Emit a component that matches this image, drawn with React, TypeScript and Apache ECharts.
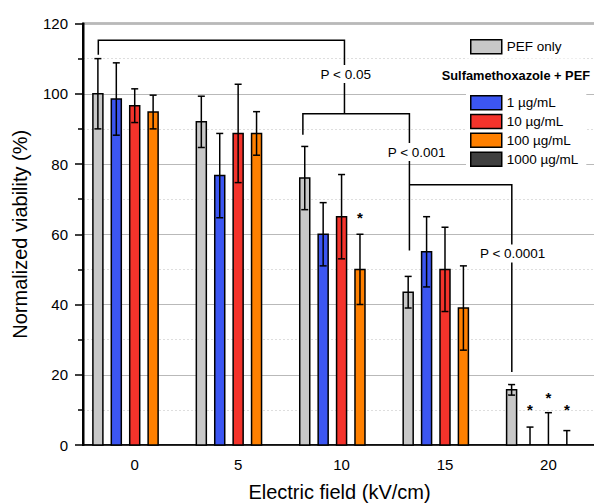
import React, { useEffect, useRef } from "react";
import * as echarts from "echarts";

// Electric field (kV/cm)
const fields = [0, 5, 10, 15, 20];
const tickValues = [0, 5, 10, 15, 20];

const seriesNames = ["PEF only", "1 µg/mL", "10 µg/mL", "100 µg/mL", "1000 µg/mL"];
const seriesColors = ["#c8c8c8", "#3c56f2", "#f4332b", "#ff8000", "#404040"];

// Normalized viability (%) and error (±)
const pefOnly = [100, 92, 76, 43.5, 15.7];
const pefOnlyErr = [10, 7.3, 9, 4.5, 1.5];
const c1 = [98.5, 76.7, 60, 55, 0];
const c1Err = [10.3, 12, 9, 10, 5.1];
const c10 = [96.6, 88.7, 65, 50, 0];
const c10Err = [4.8, 14, 12, 12, 9.2];
const c100 = [94.8, 88.7, 50, 39, 0];
const c100Err = [4.8, 6.2, 10, 12, 4.1];
const c1000 = [0, 0, 0, 0, 0];
const c1000Err = [0, 0, 0, 0, 0];

const allValues = [pefOnly, c1, c10, c100, c1000];
const allErrs = [pefOnlyErr, c1Err, c10Err, c100Err, c1000Err];

// significance stars: field, series index, y position
const starFields = [10, 20, 20, 20];
const starSeries = [3, 1, 2, 3];
const starY = [65.7, 10.9, 14.4, 10.9];

// significance brackets (data coordinates)
const bracketLines = [
  [[-1.76, 111.1], [-1.76, 115.2], [10.14, 115.2], [10.14, 94.3]],
  [[8.13, 88.3], [8.13, 94.3], [13.28, 94.3], [13.28, 55.4]],
  [[13.28, 74.1], [18.23, 74.1], [18.23, 20.8]],
];
const bracketLabels = ["P < 0.05", "P < 0.001", "P < 0.0001"];
const bracketLabelPos = [[10.2, 105.6], [13.63, 83.4], [18.27, 54.5]];

const X_MIN = -2.5;
const X_MAX = 22.3;
const Y_MIN = 0;
const Y_MAX = 120;

const FONT = "'Liberation Sans', Arial, sans-serif";
const GROUP_STEP = 0.89; // offset between bars within a group (kV/cm units)
const BAR_W = 10;
const CAP_W = 7;

export default function App() {
  const ref = useRef<HTMLDivElement>(null);
  useEffect(() => {
    if (!ref.current) return;
    const chart = echarts.init(ref.current, null, { renderer: "svg" });

    const barSeries = seriesNames.map((name, si) => ({
      name,
      type: "custom",
      itemStyle: { color: seriesColors[si], borderColor: "#000", borderWidth: 1.5 },
      encode: { x: 0, y: 1 },
      data: fields.map((f, i) => [f, allValues[si][i], allErrs[si][i]]),
      renderItem: (params: any, api: any) => {
        const x = api.value(0) + (si - 2) * GROUP_STEP;
        const v = api.value(1);
        const e = api.value(2);
        if (v === 0 && e === 0) return null;
        const base = api.coord([x, 0]);
        const top = api.coord([x, v]);
        const hi = api.coord([x, v + e]);
        const lo = api.coord([x, Math.max(0, v - e)]);
        const cx = top[0];
        const ln = { stroke: "#000", lineWidth: 1.5 };
        const children: any[] = [];
        if (v > 0) {
          children.push({
            type: "rect",
            shape: { x: cx - BAR_W / 2, y: top[1], width: BAR_W, height: base[1] - top[1] },
            style: { fill: seriesColors[si], stroke: "#000", lineWidth: 1.5 },
          });
        }
        if (e > 0) {
          children.push({ type: "line", shape: { x1: cx, y1: hi[1], x2: cx, y2: top[1] }, style: ln });
          children.push({ type: "line", shape: { x1: cx - CAP_W / 2, y1: hi[1], x2: cx + CAP_W / 2, y2: hi[1] }, style: ln });
          if (v > 0) {
            children.push({ type: "line", shape: { x1: cx, y1: top[1], x2: cx, y2: lo[1] }, style: ln });
            if (v - e > 0) {
              children.push({ type: "line", shape: { x1: cx - CAP_W / 2, y1: lo[1], x2: cx + CAP_W / 2, y2: lo[1] }, style: ln });
            }
          }
        }
        return { type: "group", children };
      },
    }));

    const starSeriesDef = {
      name: "stars",
      type: "custom",
      silent: true,
      data: starFields.map((f, i) => [f, starY[i], starSeries[i]]),
      encode: { x: 0, y: 1 },
      renderItem: (params: any, api: any) => {
        const p = api.coord([api.value(0) + (api.value(2) - 2) * GROUP_STEP, api.value(1)]);
        return {
          type: "text",
          x: p[0],
          y: p[1] + 3,
          style: { text: "*", fill: "#000", font: `bold 15px ${FONT}`, align: "center", verticalAlign: "middle" },
        };
      },
    };

    const bracketSeries = {
      name: "brackets",
      type: "custom",
      silent: true,
      data: bracketLabelPos,
      encode: { x: 0, y: 1 },
      renderItem: (params: any, api: any) => {
        const i = params.dataIndex;
        const pts = bracketLines[i].map((p) => api.coord(p));
        const lp = api.coord([api.value(0), api.value(1)]);
        return {
          type: "group",
          children: [
            { type: "polyline", shape: { points: pts }, style: { stroke: "#000", lineWidth: 1.5, fill: null } },
            {
              type: "text",
              x: lp[0],
              y: lp[1],
              z2: 10,
              style: {
                text: bracketLabels[i],
                fill: "#000",
                font: `13.5px ${FONT}`,
                align: "center",
                verticalAlign: "middle",
                backgroundColor: "#fff",
                padding: [2, 2],
              },
            },
          ],
        };
      },
    };

    // left frame line of the plot, drawn through the axes' scales
    const frameSeries = {
      name: "frame",
      type: "custom",
      silent: true,
      z: 1000,
      data: [[X_MIN, Y_MIN]],
      encode: { x: 0, y: 1 },
      renderItem: (params: any, api: any) => {
        const a = api.coord([X_MIN, Y_MIN]);
        const b = api.coord([X_MIN, Y_MAX]);
        return {
          type: "line",
          z2: 100,
          shape: { x1: a[0] + 0.5, y1: a[1] + 0.75, x2: b[0] + 0.5, y2: b[1] - 0.75 },
          style: { stroke: "#000", lineWidth: 2 },
        };
      },
    };

    const legendItem = (si: number) => ({
      name: seriesNames[si],
      itemStyle: { color: seriesColors[si], borderColor: "#000", borderWidth: 1.5 },
    });

    chart.setOption({
      animation: false,
      backgroundColor: "#fff",
      textStyle: { fontFamily: FONT },
      grid: {
        left: 83,
        right: -2,
        top: 23.5,
        bottom: 59,
        outerBoundsMode: "none",
        show: true,
        borderColor: "#000",
        borderWidth: 1.5,
        backgroundColor: "transparent",
      },
      xAxis: {
        type: "value",
        min: X_MIN,
        max: X_MAX,
        name: "Electric field (kV/cm)",
        nameLocation: "middle",
        nameGap: 37,
        nameTextStyle: { fontSize: 20, color: "#000", fontFamily: FONT },
        axisLine: { show: true, onZero: false, lineStyle: { color: "#000", width: 1.5 } },
        axisTick: { show: false },
        splitLine: { show: false },
        axisLabel: { customValues: tickValues, fontSize: 15, color: "#000", margin: 12, fontFamily: FONT },
      },
      yAxis: [
        {
          type: "value",
          position: "left",
          min: Y_MIN,
          max: Y_MAX,
          interval: 20,
          name: "Normalized viability (%)",
          nameLocation: "middle",
          nameGap: 53,
          nameTextStyle: { fontSize: 20, color: "#000", fontFamily: FONT },
          axisLine: { show: true, onZero: false, lineStyle: { color: "#000", width: 2 } },
          axisTick: { show: true, length: 8, lineStyle: { color: "#000", width: 1.5 } },
          minorTick: { show: true, splitNumber: 2, length: 5, lineStyle: { color: "#000", width: 1.5 } },
          axisLabel: { fontSize: 15, color: "#000", margin: 15, fontFamily: FONT },
          splitLine: { show: true, lineStyle: { color: "#b9b9b9", width: 1 } },
          minorSplitLine: { show: true, lineStyle: { color: "#dedede", width: 1, type: [2, 2] } },
        },
      ],
      legend: [
        {
          data: [legendItem(0)],
          orient: "vertical",
          left: 466,
          top: 35,
          padding: [4, 22, 4, 4],
          backgroundColor: "#fff",
          icon: "rect",
          itemWidth: 31,
          itemHeight: 14,
          selectedMode: false,
          textStyle: { fontSize: 13.5, color: "#000", fontFamily: FONT, lineHeight: 14 },
        },
        {
          data: [legendItem(1), legendItem(2), legendItem(3), legendItem(4)],
          orient: "vertical",
          left: 466,
          top: 91,
          padding: [4, 8, 4, 4],
          backgroundColor: "#fff",
          icon: "rect",
          itemWidth: 31,
          itemHeight: 14,
          itemGap: 3.3,
          selectedMode: false,
          textStyle: { fontSize: 13.5, color: "#000", fontFamily: FONT, lineHeight: 14 },
        },
      ],
      graphic: [
        {
          type: "text",
          right: 4,
          top: 69,
          z: 100,
          style: {
            text: "Sulfamethoxazole + PEF",
            fill: "#000",
            font: `bold 12.8px ${FONT}`,
          },
        },
      ],
      series: [...barSeries, starSeriesDef, bracketSeries, frameSeries],
    });

    return () => chart.dispose();
  }, []);

  return <div ref={ref} style={{ position: "absolute", left: 0, top: 0, width: 594, height: 504 }} />;
}
